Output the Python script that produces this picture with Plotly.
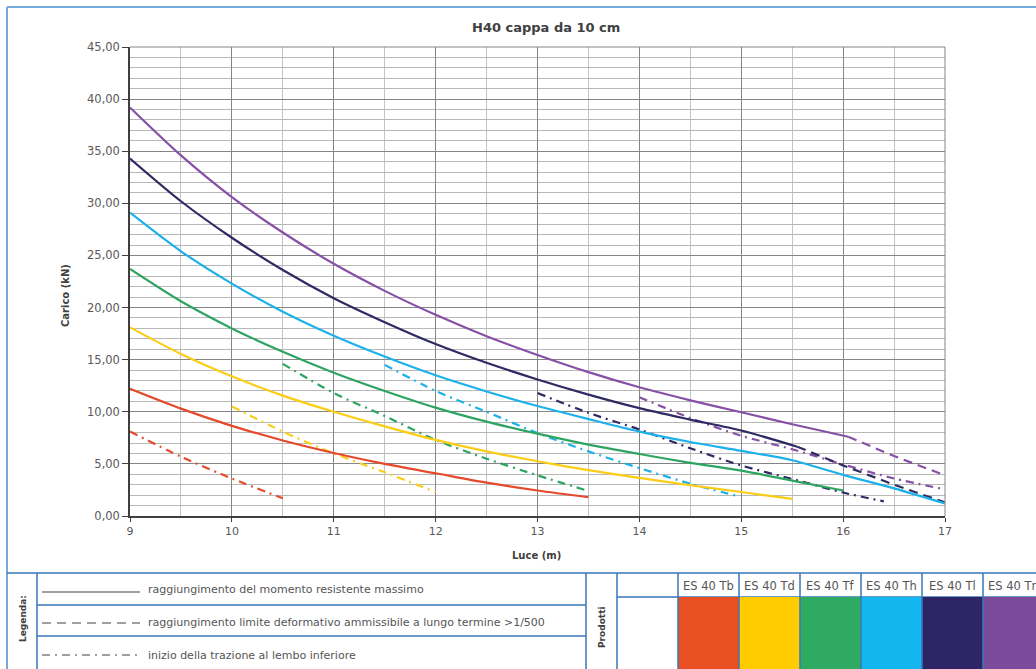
import plotly.graph_objects as go

# ---------------- data ----------------
products = ["ES 40 Tb", "ES 40 Td", "ES 40 Tf", "ES 40 Th", "ES 40 Tl", "ES 40 Tn"]
line_colors = ["#e64a2c", "#fbcd14", "#2ea462", "#1cb1ea", "#2e2a63", "#8750a6"]
block_colors = ["#e84f22", "#ffcc00", "#2eaa62", "#13b6ee", "#2d2565", "#7b4a9b"]

# solid: raggiungimento del momento resistente massimo
tb_solid_x = [9, 9.5, 10, 10.5, 11, 11.5, 12, 12.5, 13, 13.5]
tb_solid_y = [12.2, 10.3, 8.65, 7.25, 6.05, 5.0, 4.1, 3.2, 2.45, 1.8]
td_solid_x = [9, 9.5, 10, 10.5, 11, 11.5, 12, 12.5, 13, 13.5, 14, 14.5, 15, 15.5]
td_solid_y = [18.1, 15.55, 13.4, 11.55, 10.0, 8.6, 7.3, 6.2, 5.25, 4.4, 3.65, 2.95, 2.3, 1.65]
tf_solid_x = [9, 9.5, 10, 10.5, 11, 11.5, 12, 12.5, 13, 13.5, 14, 14.5, 15, 15.5, 16]
tf_solid_y = [23.7, 20.6, 18.0, 15.75, 13.75, 12.0, 10.4, 9.05, 7.9, 6.85, 5.95, 5.1, 4.35, 3.4, 2.45]
th_solid_x = [9, 9.5, 10, 10.5, 11, 11.5, 12, 12.5, 13, 13.5, 14, 14.5, 15, 15.5, 16, 16.5, 17]
th_solid_y = [29.1, 25.4, 22.3, 19.6, 17.3, 15.3, 13.5, 11.95, 10.55, 9.3, 8.1, 7.1, 6.25, 5.35, 3.95, 2.65, 1.2]
tl_solid_x = [9, 9.5, 10, 10.5, 11, 11.5, 12, 12.5, 13, 13.5, 14, 14.5, 15, 15.55]
tl_solid_y = [34.3, 30.2, 26.7, 23.6, 20.9, 18.6, 16.5, 14.7, 13.1, 11.65, 10.35, 9.25, 8.2, 6.65]
tn_solid_x = [9, 9.5, 10, 10.5, 11, 11.5, 12, 12.5, 13, 13.5, 14, 14.5, 15, 15.5, 16.05]
tn_solid_y = [39.2, 34.6, 30.6, 27.2, 24.2, 21.6, 19.3, 17.25, 15.45, 13.8, 12.35, 11.1, 9.95, 8.8, 7.6]

# dashed: limite deformativo ammissibile a lungo termine >1/500
tl_dash_x = [15.55, 16, 16.5, 17]
tl_dash_y = [6.65, 4.85, 3.0, 1.3]
tn_dash_x = [16.05, 16.5, 17]
tn_dash_y = [7.6, 5.75, 3.9]

# dash-dot: inizio della trazione al lembo inferiore
tb_dd_x = [9, 9.5, 10, 10.5]
tb_dd_y = [8.1, 5.7, 3.6, 1.7]
td_dd_x = [10, 10.5, 11, 11.5, 12]
td_dd_y = [10.5, 8.1, 6.0, 4.2, 2.3]
tf_dd_x = [10.5, 11, 11.5, 12, 12.5, 13, 13.5]
tf_dd_y = [14.6, 11.8, 9.6, 7.3, 5.5, 3.9, 2.4]
th_dd_x = [11.5, 12, 12.5, 13, 13.5, 14, 14.5, 14.95]
th_dd_y = [14.5, 12.0, 10.0, 7.95, 6.2, 4.6, 3.1, 1.95]
tl_dd_x = [13, 13.5, 14, 14.5, 15, 15.5, 16, 16.4]
tl_dd_y = [11.8, 9.9, 8.3, 6.5, 4.85, 3.55, 2.25, 1.4]
tn_dd_x = [14, 14.5, 15, 15.5, 16, 16.5, 17]
tn_dd_y = [11.4, 9.4, 7.7, 6.4, 4.95, 3.6, 2.55]

legend_texts = [
    "raggiungimento del momento resistente massimo",
    "raggiungimento limite deformativo ammissibile a lungo termine >1/500",
    "inizio della trazione al lembo inferiore",
]

# ---------------- figure ----------------
W, H = 1036, 669
L, R, T, B = 130, 945, 47, 516  # plot area in pixels

def P(x):
    return (x - L) / (R - L)

def Q(y):
    return (B - y) / (B - T)

DASH = "9px,6px"
DASHDOT = "8px,5px,2px,5px"

fig = go.Figure()

def add(x, y, color, dash, shape="spline"):
    fig.add_trace(go.Scatter(x=x, y=y, mode="lines",
                             line=dict(color=color, width=2.2, dash=dash,
                                       shape=shape, smoothing=0.8),
                             hoverinfo="skip", showlegend=False))

dd = [(tb_dd_x, tb_dd_y), (td_dd_x, td_dd_y), (tf_dd_x, tf_dd_y),
      (th_dd_x, th_dd_y), (tl_dd_x, tl_dd_y), (tn_dd_x, tn_dd_y)]
for (x, y), c in zip(dd, line_colors):
    add(x, y, c, DASHDOT)

add(tl_dash_x, tl_dash_y, line_colors[4], DASH, "linear")
add(tn_dash_x, tn_dash_y, line_colors[5], DASH, "linear")

solids = [(tb_solid_x, tb_solid_y), (td_solid_x, td_solid_y), (tf_solid_x, tf_solid_y),
          (th_solid_x, th_solid_y), (tl_solid_x, tl_solid_y), (tn_solid_x, tn_solid_y)]
for (x, y), c in zip(solids, line_colors):
    add(x, y, c, "solid")

FONT = "DejaVu Sans"

fig.update_layout(
    width=W, height=H, autosize=False,
    margin=dict(l=L, r=W - R, t=T, b=H - B, pad=0),
    paper_bgcolor="white", plot_bgcolor="white",
    separators=",.",
    font=dict(family=FONT, size=11, color="#595959"),
    xaxis=dict(range=[9, 17], dtick=1, tick0=9, tickformat="d",
               showgrid=True, gridcolor="#858585", gridwidth=1,
               minor=dict(dtick=0.5, showgrid=True, gridcolor="#c4c4c4", gridwidth=1),
               showline=True, linecolor="#3f3f3f", linewidth=1.5,
               ticks="outside", ticklen=4, tickcolor="#3f3f3f",
               zeroline=False, tickfont=dict(size=11, color="#595959")),
    yaxis=dict(range=[0, 45], dtick=5, tick0=0, tickformat=".2f",
               showgrid=True, gridcolor="#858585", gridwidth=1,
               minor=dict(dtick=1, showgrid=True, gridcolor="#b8b8b8", gridwidth=1),
               showline=True, linecolor="#3f3f3f", linewidth=1.5,
               ticks="outside", ticklen=6, tickcolor="#3f3f3f",
               zeroline=False, tickfont=dict(size=11.5, color="#595959")),
)

shapes = []
ann = []

def hline(x0, x1, y, color, width=1.5):
    shapes.append(dict(type="line", xref="paper", yref="paper",
                       x0=P(x0), x1=P(x1), y0=Q(y), y1=Q(y),
                       line=dict(color=color, width=width)))

def vline(x, y0, y1, color, width=1.5):
    shapes.append(dict(type="line", xref="paper", yref="paper",
                       x0=P(x), x1=P(x), y0=Q(y0), y1=Q(y1),
                       line=dict(color=color, width=width)))

def text(x, y, s, size, color="#555555", bold=False, xanchor="center", angle=0, family=FONT):
    ann.append(dict(xref="paper", yref="paper", x=P(x), y=Q(y),
                    text=("<b>%s</b>" % s) if bold else s, showarrow=False,
                    xanchor=xanchor, yanchor="middle", textangle=angle,
                    font=dict(family=family, size=size, color=color)))

# plot-area top/right frame in grid grey
hline(L, R, T, "#858585", 1)
vline(R, T, B, "#858585", 1)

FRAME = "#74aadb"
TABLE = "#3a76b8"
# outer frame
vline(7, 7, H, FRAME, 2)
hline(7, W, 7, FRAME, 2)

# table
top, hdr = 573, 597
row1, row2 = 605, 636
hline(7, W, top, TABLE)
vline(37, top, H, TABLE)
hline(37, 586, row1, TABLE)
hline(37, 586, row2, TABLE)
vline(586, top, H, TABLE)
vline(617, top, H, TABLE)
hline(617, W, hdr, TABLE)
cols = [678, 739, 800, 861, 922, 983, 1044]
for i, p in enumerate(products):
    shapes.append(dict(type="rect", xref="paper", yref="paper",
                       x0=P(cols[i]), x1=P(cols[i + 1]), y0=Q(hdr), y1=Q(H + 2),
                       line=dict(width=0), fillcolor=block_colors[i]))
    text((cols[i] + cols[i + 1]) / 2, 586, p, 11.5)
for c in cols[:-1]:
    vline(c, top, H, TABLE)

# legend samples
SAMPLE = "#808080"
for y, dash in [(592, "solid"), (623, DASH), (655, DASHDOT)]:
    shapes.append(dict(type="line", xref="paper", yref="paper",
                       x0=P(42), x1=P(140), y0=Q(y), y1=Q(y),
                       line=dict(color=SAMPLE, width=1.3, dash=dash)))
for y, s in zip([589, 622, 655], legend_texts):
    text(146, y, s, 11, xanchor="left")

text(23, 619, "Legenda:", 9, color="#404040", bold=True, angle=-90)
text(602, 627, "Prodotti", 9, color="#404040", bold=True, angle=-90)

# titles
text(546, 27, "H40 cappa da 10 cm", 13, color="#404040", bold=True)
text(65, 296, "Carico (kN)", 10, color="#404040", bold=True, angle=-90)
text(536, 555, "Luce (m)", 10, color="#404040", bold=True)

fig.update_layout(shapes=shapes, annotations=ann)
fig.write_html("out.html")
